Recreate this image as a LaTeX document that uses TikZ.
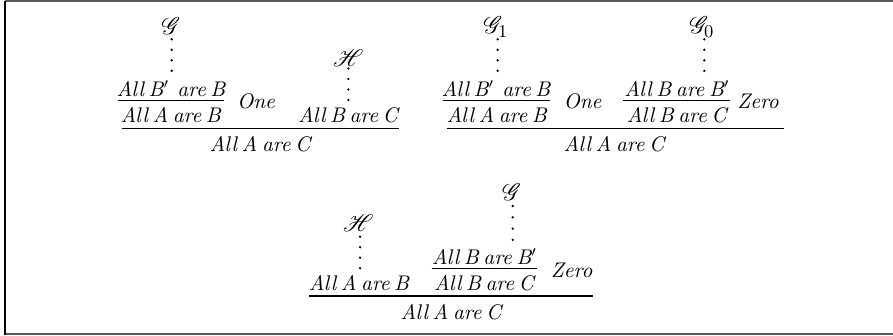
\documentclass[tikz,border=0pt]{standalone}
\usepackage{mathrsfs}
\newcommand\tightwords{\spaceskip 2.3pt\relax}
\begin{document}
\begin{tikzpicture}[x=0.5pt,y=-0.5pt,
  fm/.style={anchor=base,inner sep=0pt,font={\fontsize{10.6}{12}\selectfont\itshape\tightwords}},
  lettr/.style={anchor=center,inner sep=0pt,font={\fontsize{13}{15}\selectfont}},
  rule/.style={line width=0.65pt},
  dotcol/.style={line width=1.3pt,line cap=round,dash pattern=on 0pt off 5.25pt},
  frameline/.style={line width=1pt}]
\useasboundingbox (0,0) rectangle (893,336);
% frame
\draw[frameline,gray!70!black] (5,1.5) -- (893,1.5);
\draw[frameline,gray!70!black] (5,334) -- (893,334);
\draw[frameline,black] (5,1) -- (5,334.5);

% ---------- first derivation ----------
\node[lettr] (t1g) at (171,26) {$\mathscr{G}$};
\coordinate (t1gtop) at (171.7,39.3);
\coordinate (t1gbot) at (171.7,71);
\draw[dotcol] (t1gtop) -- (t1gbot);
\node[fm] (t1n) at (171,96.5) {All B$'$\, are B};
\draw[rule] (118,100.7) -- (224,100.7);
\node[fm] (t1p) at (170.7,122.3) {All A are B};
\node[fm] (t1one) at (256,108.3) {One};
\node[lettr] (t1h) at (348.3,58) {$\mathscr{H}$};
\coordinate (t1htop) at (348.3,68.5);
\coordinate (t1hbot) at (348.3,100);
\draw[dotcol] (t1htop) -- (t1hbot);
\node[fm] (t1q) at (348,122.3) {All B are C};
\draw[rule] (121.7,128.3) -- (399,128.3);
\node[fm] (t1c) at (260,151.5) {All A are C};

% ---------- second derivation ----------
\node[lettr] (t2g) at (496,27) {$\mathscr{G}_1$};
\coordinate (t2gtop) at (497.7,39.3);
\coordinate (t2gbot) at (497.7,71);
\draw[dotcol] (t2gtop) -- (t2gbot);
\node[fm] (t2n) at (496,96.5) {All B$'$\, are B};
\draw[rule] (443,100.7) -- (550,100.7);
\node[fm] (t2p) at (496.7,122.3) {All A are B};
\node[fm] (t2one) at (582.5,108.3) {One};
\node[lettr] (t2g0) at (702,27) {$\mathscr{G}_0$};
\coordinate (t2g0top) at (704.3,39.3);
\coordinate (t2g0bot) at (704.3,71);
\draw[dotcol] (t2g0top) -- (t2g0bot);
\node[fm] (t2m) at (677,96.5) {All B are B$'$};
\draw[rule] (623,100.7) -- (730,100.7);
\node[fm] (t2q) at (676.7,122.3) {All B are C};
\node[fm] (t2zero) at (758,108.3) {Zero};
\draw[rule] (446.7,128.3) -- (784,128.3);
\node[fm] (t2c) at (614,151.5) {All A are C};

% ---------- third derivation ----------
\node[lettr] (t3h) at (358.3,223.5) {$\mathscr{H}$};
\coordinate (t3htop) at (360,236.7);
\coordinate (t3hbot) at (360,268.5);
\draw[dotcol] (t3htop) -- (t3hbot);
\node[fm] (t3p) at (359,290) {All A are B};
\node[lettr] (t3g) at (511.7,192.5) {$\mathscr{G}$};
\coordinate (t3gtop) at (512.7,206);
\coordinate (t3gbot) at (512.7,240.3);
\draw[dotcol,dash pattern=on 0pt off 5.65pt] (t3gtop) -- (t3gbot);
\node[fm] (t3m) at (484.5,264.2) {All B are B$'$};
\draw[rule] (431.7,268.7) -- (537.3,268.7);
\node[fm] (t3q) at (484,290) {All B are C};
\node[fm] (t3zero) at (571.7,277) {Zero};
\draw[rule] (309.3,296) -- (593.3,296);
\node[fm] (t3c) at (451,319.2) {All A are C};
\end{tikzpicture}
\end{document}
